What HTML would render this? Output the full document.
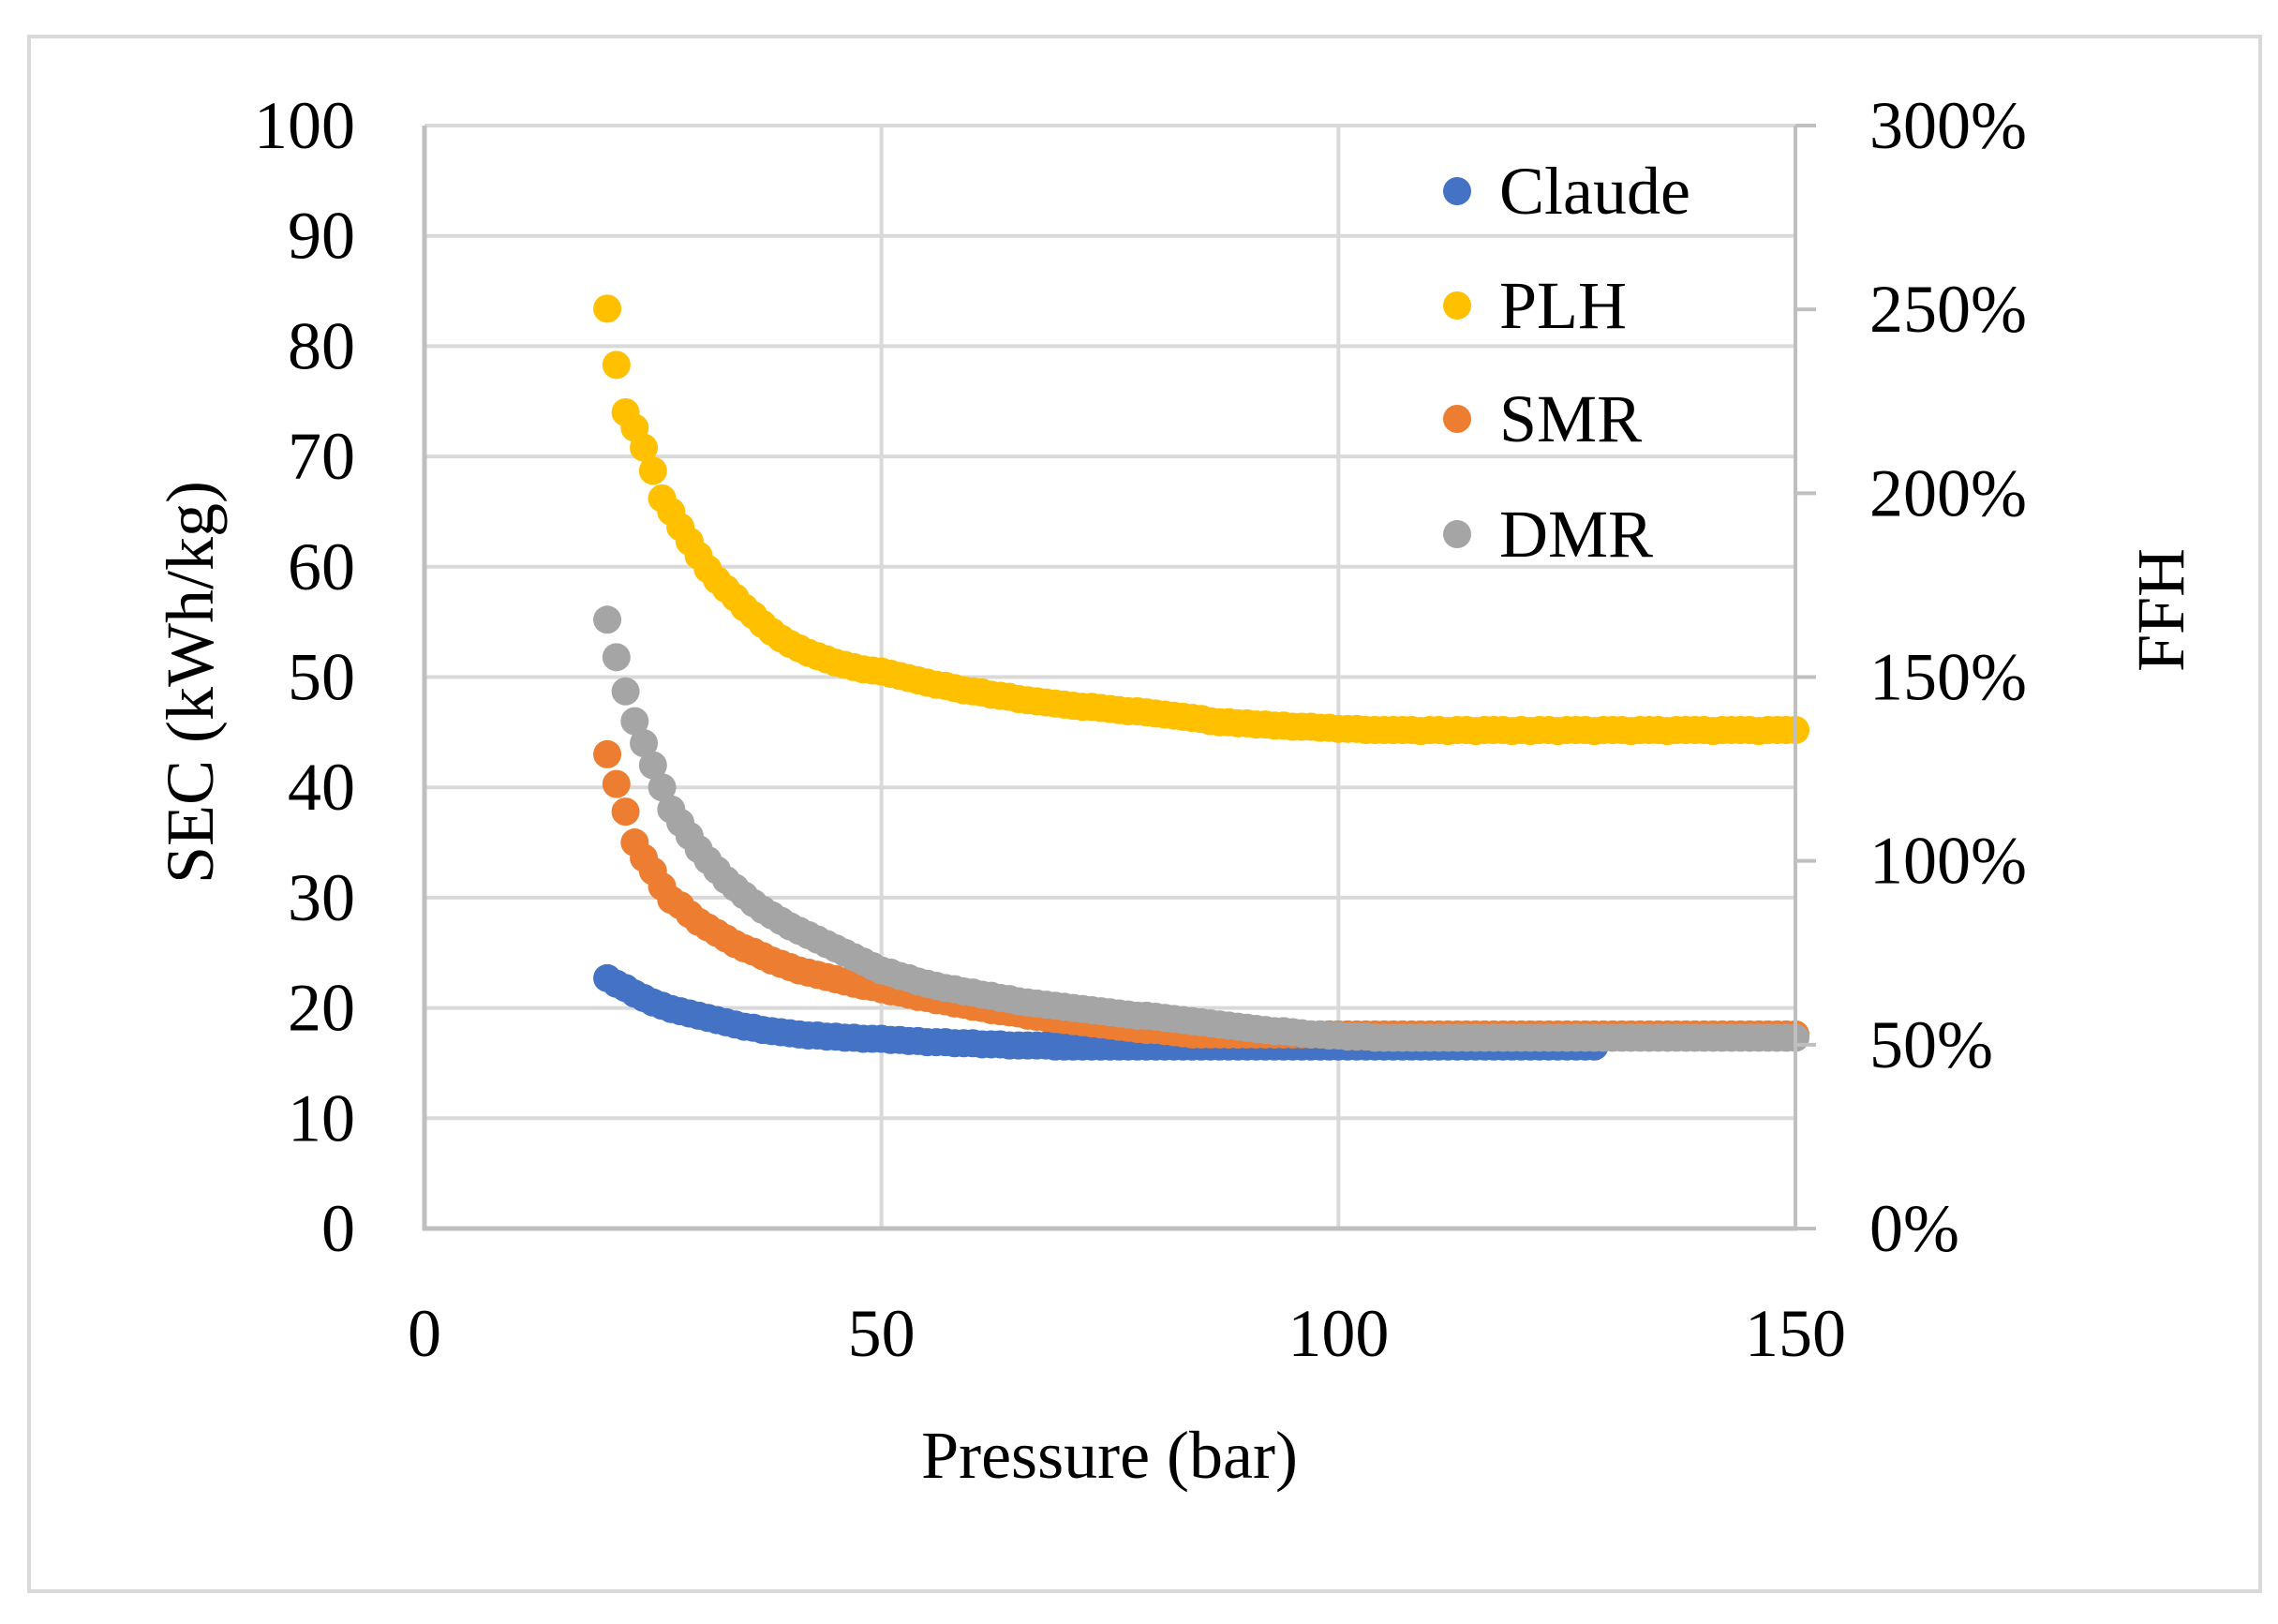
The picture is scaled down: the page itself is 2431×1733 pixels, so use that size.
<!DOCTYPE html>
<html><head><meta charset="utf-8"><style>
html,body{margin:0;padding:0;background:#fff;}
svg{display:block;font-family:"Liberation Serif",serif;}
</style></head><body>
<svg id="chart" width="2431" height="1733" viewBox="0 0 2431 1733" xmlns="http://www.w3.org/2000/svg">
<rect x="31" y="39" width="2381" height="1659" fill="#fff" stroke="#d9d9d9" stroke-width="4"/>
<g id="grid"></g>
<g id="series"></g>
<g id="axes"></g>
<g id="labels" font-size="72" fill="#000"></g>
</svg>
<script>
const yTicks = [0,10,20,30,40,50,60,70,80,90,100];
const xTicks = [0,50,100,150];
const rightTicks = ["0%","50%","100%","150%","200%","250%","300%"];
const seriesNames = ["Claude","PLH","SMR","DMR"];
const seriesColors = ["#4472c4","#ffc000","#ed7d31","#a5a5a5"];
const pStart = 20;
const claude = [22.7,22.2,21.8,21.3,20.9,20.5,20.2,19.9,19.7,19.5,
19.3,19.1,18.9,18.7,18.5,18.3,18.2,18.0,17.9,17.8,
17.7,17.6,17.5,17.5,17.4,17.4,17.3,17.3,17.2,17.2,
17.2,17.1,17.1,17.0,17.0,16.9,16.9,16.9,16.8,16.8,
16.8,16.7,16.7,16.7,16.6,16.6,16.6,16.6,16.6,16.5,
16.5,16.5,16.5,16.5,16.5,16.5,16.5,16.5,16.5,16.5,
16.5,16.5,16.5,16.5,16.5,16.5,16.5,16.5,16.5,16.5,
16.5,16.5,16.5,16.5,16.5,16.5,16.5,16.5,16.5,16.5,
16.5,16.5,16.5,16.5,16.5,16.5,16.5,16.5,16.5,16.5,
16.5,16.5,16.5,16.5,16.5,16.5,16.5,16.5,16.5,16.5,
16.5,16.5,16.5,16.5,16.5,16.5,16.5,16.5,16.5];
const plh = [83.4,78.3,74.0,72.6,70.8,68.7,66.2,65.0,63.6,62.3,
61.0,59.8,58.8,58.0,57.2,56.3,55.6,54.8,54.1,53.5,
53.0,52.6,52.2,51.9,51.6,51.3,51.1,50.9,50.7,50.6,
50.5,50.3,50.1,49.9,49.7,49.5,49.3,49.2,49.0,48.8,
48.7,48.6,48.4,48.3,48.2,48.0,47.9,47.8,47.7,47.6,
47.5,47.4,47.3,47.3,47.2,47.1,47.0,46.9,46.9,46.8,
46.7,46.6,46.5,46.4,46.3,46.2,46.0,45.9,45.9,45.8,
45.8,45.7,45.7,45.6,45.6,45.5,45.5,45.5,45.4,45.4,
45.3,45.3,45.3,45.2,45.2,45.2,45.2,45.2,45.2,45.1,
45.2,45.2,45.1,45.2,45.2,45.1,45.2,45.2,45.2,45.1,
45.2,45.1,45.2,45.2,45.1,45.2,45.2,45.2,45.1,45.2,
45.2,45.2,45.1,45.2,45.2,45.2,45.1,45.2,45.2,45.2,
45.2,45.1,45.2,45.2,45.2,45.2,45.1,45.2,45.2,45.2,45.2];
const smr = [43.0,40.3,37.8,35.0,33.6,32.4,31.0,29.8,29.3,28.5,
27.8,27.3,26.8,26.3,25.8,25.4,25.1,24.7,24.3,24.0,
23.7,23.4,23.2,23.0,22.8,22.6,22.4,22.2,22.0,21.9,
21.7,21.5,21.4,21.2,21.0,20.9,20.7,20.6,20.4,20.3,
20.1,20.0,19.8,19.7,19.6,19.5,19.3,19.2,19.1,19.0,
18.9,18.8,18.7,18.6,18.5,18.4,18.3,18.2,18.1,18.0,
18.0,17.9,17.8,17.7,17.6,17.6,17.6,17.6,17.6,17.6,
17.6,17.6,17.6,17.6,17.6,17.6,17.6,17.6,17.6,17.6,
17.6,17.6,17.6,17.6,17.6,17.6,17.6,17.6,17.6,17.6,
17.6,17.6,17.6,17.6,17.6,17.6,17.6,17.6,17.6,17.6,
17.6,17.6,17.6,17.6,17.6,17.6,17.6,17.6,17.6,17.6,
17.6,17.6,17.6,17.6,17.6,17.6,17.6,17.6,17.6,17.6,
17.6,17.6,17.6,17.6,17.6,17.6,17.6,17.6,17.6,17.6,17.6];
const dmr = [55.2,51.8,48.7,46.0,44.0,42.0,40.0,38.0,36.8,35.6,
34.4,33.4,32.5,31.6,30.9,30.2,29.5,28.9,28.4,27.9,
27.4,27.0,26.6,26.2,25.8,25.4,25.0,24.6,24.2,23.8,
23.4,23.2,22.9,22.7,22.4,22.2,22.0,21.8,21.7,21.5,
21.4,21.2,21.1,20.9,20.8,20.6,20.5,20.4,20.3,20.2,
20.1,20.0,19.9,19.8,19.7,19.6,19.5,19.4,19.3,19.3,
19.2,19.1,19.0,18.9,18.8,18.7,18.6,18.5,18.4,18.3,
18.2,18.1,18.0,17.9,17.9,17.8,17.7,17.6,17.6,17.5,
17.5,17.4,17.4,17.4,17.3,17.3,17.3,17.3,17.3,17.3,
17.3,17.3,17.3,17.3,17.3,17.3,17.3,17.3,17.3,17.3,
17.3,17.3,17.3,17.3,17.3,17.3,17.3,17.3,17.3,17.3,
17.3,17.3,17.3,17.3,17.3,17.3,17.3,17.3,17.3,17.3,
17.3,17.3,17.3,17.3,17.3,17.3,17.3,17.3,17.3,17.3,17.3];
const seriesData = [claude, plh, smr, dmr];

const NS = "http://www.w3.org/2000/svg";
const L = 453, R = 1916, T = 134, B = 1311;
const xScale = v => L + (v - 0) / 150 * (R - L);
const yScale = v => B - v / 100 * (B - T);
function mk(tag, attrs, parent) {
  const e = document.createElementNS(NS, tag);
  for (const k in attrs) e.setAttribute(k, attrs[k]);
  parent.appendChild(e);
  return e;
}
const grid = document.getElementById('grid');
const axes = document.getElementById('axes');
const labels = document.getElementById('labels');
const series = document.getElementById('series');

yTicks.forEach(v => {
  if (v > 0) {
    const g = mk('line', {x1:L, x2:R, y1:yScale(v), y2:yScale(v), stroke:'#d9d9d9', 'stroke-width':4}, grid);
    
    
  }
  const t = mk('text', {x:379, y:yScale(v), 'text-anchor':'end', 'dominant-baseline':'central'}, labels);
  t.textContent = v;
  
  
});
xTicks.forEach(v => {
  if (v > 0 && v < 150) {
    const g = mk('line', {x1:xScale(v), x2:xScale(v), y1:T, y2:B, stroke:'#d9d9d9', 'stroke-width':4}, grid);
    
    
  }
  const t = mk('text', {x:xScale(v), y:1423, 'text-anchor':'middle', 'dominant-baseline':'central'}, labels);
  t.textContent = v;
  
  
});
rightTicks.forEach((s, i) => {
  const y = B - i / (rightTicks.length - 1) * (B - T);
  const tk = mk('line', {x1:R, x2:R + 22, y1:y, y2:y, stroke:'#bfbfbf', 'stroke-width':4}, axes);
  
  
  const t = mk('text', {x:1995, y:y, 'text-anchor':'start', 'dominant-baseline':'central'}, labels);
  t.textContent = s;
  
  
});
const la = mk('line', {x1:L, x2:L, y1:T, y2:B + 2, stroke:'#bfbfbf', 'stroke-width':5}, axes);


const ba = mk('line', {x1:L - 2, x2:R + 2, y1:B, y2:B, stroke:'#bfbfbf', 'stroke-width':5}, axes);


const ra = mk('line', {x1:R, x2:R, y1:T, y2:B, stroke:'#bfbfbf', 'stroke-width':4}, axes);



seriesData.forEach((arr, si) => {
  const g = mk('g', {fill:seriesColors[si]}, series);
  
  
  arr.forEach((v, i) => {
    const c = mk('circle', {cx:xScale(pStart + i), cy:yScale(v), r:15}, g);
    
    
  });
});

const legY = [204, 326, 447, 570];
seriesNames.forEach((n, i) => {
  const c = mk('circle', {cx:1555, cy:legY[i], r:15, fill:seriesColors[i]}, labels);
  
  
  const t = mk('text', {x:1600, y:legY[i], 'dominant-baseline':'central'}, labels);
  t.textContent = n;
  
  
});

const xt = mk('text', {x:1184, y:1553, 'text-anchor':'middle', 'dominant-baseline':'central'}, labels);
xt.textContent = 'Pressure (bar)';


const yt = mk('text', {x:0, y:0, 'text-anchor':'middle', 'dominant-baseline':'central', transform:'translate(203,728) rotate(-90)'}, labels);
yt.textContent = 'SEC (kWh/kg)';


const ft = mk('text', {x:0, y:0, 'text-anchor':'middle', 'dominant-baseline':'central', transform:'translate(2306,651) rotate(-90)'}, labels);
ft.textContent = 'FFH';


</script>
</body></html>
